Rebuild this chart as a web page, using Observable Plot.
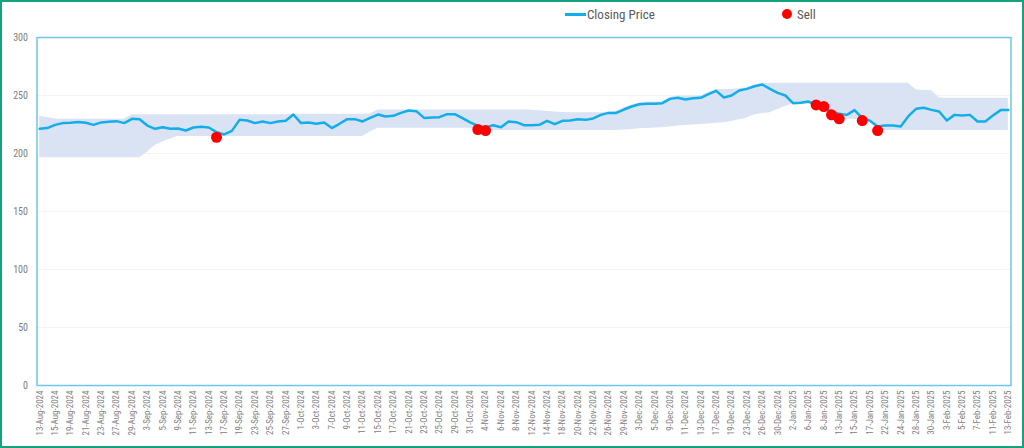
<!DOCTYPE html>
<html>
<head>
<meta charset="utf-8">
<script src="https://cdn.jsdelivr.net/npm/d3@7"></script>
<script src="https://cdn.jsdelivr.net/npm/@observablehq/plot@0.6"></script>
<style>
  html, body { margin: 0; padding: 0; background: #fff; }
  #wrap { position: relative; width: 1024px; height: 448px; overflow: hidden; background: #fff;
          font-family: "Liberation Sans Narrow", "Roboto Condensed", "DejaVu Sans Condensed", "Liberation Sans", sans-serif; }
  #chart { position: absolute; left: 0; top: 0; }
  #border { position: absolute; left: 0; top: 0; width: 1024px; height: 448px; box-sizing: border-box;
            border: 2px solid #17a17c; pointer-events: none; }
  .leg { position: absolute; top: 5px; height: 18px; display: flex; align-items: center; font-size: 13px; color: #595959; }
  .sw-line { width: 21px; height: 3px; background: #12aeea; margin-right: 1px; }
  .sw-dot { width: 10px; height: 10px; border-radius: 50%; background: #ff0000; margin-right: 5px; }
</style>
</head>
<body>
<div id="wrap">
  <div id="chart"></div>
  <div class="leg" style="left:565px"><div class="sw-line"></div><span>Closing Price</span></div>
  <div class="leg" style="left:782px"><div class="sw-dot"></div><span>Sell</span></div>
  <div id="border"></div>
</div>
<script>
const dates = [
  "13-Aug-2024","14-Aug-2024","15-Aug-2024","16-Aug-2024","19-Aug-2024","20-Aug-2024","21-Aug-2024","22-Aug-2024","23-Aug-2024","26-Aug-2024","27-Aug-2024","28-Aug-2024","29-Aug-2024","30-Aug-2024",
  "3-Sep-2024","4-Sep-2024","5-Sep-2024","6-Sep-2024","9-Sep-2024","10-Sep-2024","11-Sep-2024","12-Sep-2024","13-Sep-2024","16-Sep-2024","17-Sep-2024","18-Sep-2024","19-Sep-2024","20-Sep-2024","23-Sep-2024","24-Sep-2024","25-Sep-2024","26-Sep-2024","27-Sep-2024","30-Sep-2024",
  "1-Oct-2024","2-Oct-2024","3-Oct-2024","4-Oct-2024","7-Oct-2024","8-Oct-2024","9-Oct-2024","10-Oct-2024","11-Oct-2024","14-Oct-2024","15-Oct-2024","16-Oct-2024","17-Oct-2024","18-Oct-2024","21-Oct-2024","22-Oct-2024","23-Oct-2024","24-Oct-2024","25-Oct-2024","28-Oct-2024","29-Oct-2024","30-Oct-2024","31-Oct-2024",
  "1-Nov-2024","4-Nov-2024","5-Nov-2024","6-Nov-2024","7-Nov-2024","8-Nov-2024","11-Nov-2024","12-Nov-2024","13-Nov-2024","14-Nov-2024","15-Nov-2024","18-Nov-2024","19-Nov-2024","20-Nov-2024","21-Nov-2024","22-Nov-2024","25-Nov-2024","26-Nov-2024","27-Nov-2024","29-Nov-2024",
  "2-Dec-2024","3-Dec-2024","4-Dec-2024","5-Dec-2024","6-Dec-2024","9-Dec-2024","10-Dec-2024","11-Dec-2024","12-Dec-2024","13-Dec-2024","16-Dec-2024","17-Dec-2024","18-Dec-2024","19-Dec-2024","20-Dec-2024","23-Dec-2024","24-Dec-2024","26-Dec-2024","27-Dec-2024","30-Dec-2024","31-Dec-2024",
  "2-Jan-2025","3-Jan-2025","6-Jan-2025","7-Jan-2025","8-Jan-2025","10-Jan-2025","13-Jan-2025","14-Jan-2025","15-Jan-2025","16-Jan-2025","17-Jan-2025","21-Jan-2025","22-Jan-2025","23-Jan-2025","24-Jan-2025","27-Jan-2025","28-Jan-2025","29-Jan-2025","30-Jan-2025","31-Jan-2025",
  "3-Feb-2025","4-Feb-2025","5-Feb-2025","6-Feb-2025","7-Feb-2025","10-Feb-2025","11-Feb-2025","12-Feb-2025","13-Feb-2025"
];

const closingPrice = [
  221.3,221.9,224.7,226.2,226.5,227.1,226.5,224.7,226.8,227.3,227.9,226.2,229.9,229.6,
  224.1,221.3,222.7,221.3,221.6,219.8,222.4,223.0,222.4,218.4,216.4,219.5,229.0,228.4,226.2,227.6,226.2,227.6,228.2,233.6,
  226.2,226.8,225.6,226.8,221.9,225.6,229.6,229.6,227.6,230.7,233.6,231.9,232.5,235.0,237.1,236.5,230.7,231.0,231.3,233.9,233.9,230.5,226.8,
  223.9,222.4,224.4,222.7,227.6,227.0,224.4,224.4,224.7,228.2,225.3,228.2,228.4,229.6,229.0,230.2,233.3,235.0,235.0,237.9,
  240.5,242.5,242.8,242.8,243.4,247.1,248.0,246.6,247.7,248.0,251.1,254.0,248.3,250.0,254.3,255.7,258.0,259.5,255.7,252.3,250.0,
  243.4,243.7,244.8,241.9,239.0,236.2,234.2,233.3,237.4,230.5,228.2,223.3,224.1,224.1,223.3,232.2,238.5,239.4,237.6,236.2,
  228.4,233.3,232.8,233.3,227.6,227.6,232.8,237.4,237.4
];

const bandUpper = [
  231.9,231.0,229.8,229.5,229.5,229.5,229.5,229.5,229.5,229.5,229.5,229.5,233.5,233.5,
  233.5,233.5,233.5,233.5,233.5,233.5,233.5,233.5,233.5,233.5,233.5,233.5,233.5,233.5,233.5,233.5,233.5,233.5,233.5,233.8,
  233.8,233.8,233.8,233.8,233.8,233.8,233.8,233.8,233.8,234.0,237.6,237.6,237.6,237.6,237.6,237.6,237.6,237.6,237.6,237.6,237.6,237.6,237.6,
  237.6,237.6,237.6,237.6,237.6,237.6,237.6,237.2,236.8,236.2,235.7,235.3,235.1,235.1,235.1,235.1,235.1,235.8,236.5,239.5,
  241.5,243.5,244.5,244.5,244.5,248.5,249.5,249.5,249.5,249.5,252.5,255.2,255.2,255.2,255.8,257.0,259.0,260.5,260.5,260.5,260.5,
  260.5,260.5,260.5,260.5,260.5,260.5,260.5,260.5,260.5,260.5,260.5,260.5,260.5,260.5,260.5,260.5,255.0,254.3,254.0,248.0,
  247.7,247.7,247.7,247.7,247.7,247.7,247.7,247.7,247.7
];

const bandLower = [
  196.3,196.3,196.3,196.3,196.3,196.3,196.3,196.3,196.3,196.3,196.3,196.3,196.3,196.3,
  201.0,206.9,210.0,212.5,214.7,214.7,214.7,214.7,214.7,214.7,214.7,214.7,214.7,214.7,214.7,214.7,214.7,214.7,214.7,214.7,
  214.7,214.7,214.7,214.7,214.7,214.7,214.7,214.7,214.7,218.5,221.8,221.8,221.8,221.8,221.8,221.8,221.8,221.8,221.8,221.8,221.8,221.8,221.8,
  220.7,219.8,219.8,219.8,219.8,219.8,219.8,219.8,219.8,219.8,219.8,219.8,219.8,219.8,219.8,219.8,219.8,219.8,219.8,220.2,
  220.7,221.3,221.6,221.9,222.2,222.8,223.6,224.1,224.6,225.0,225.5,226.0,226.6,227.6,229.0,230.5,233.3,234.5,235.1,238.0,240.5,
  242.8,242.8,242.5,241.5,238.5,233.3,229.9,229.5,229.5,228.4,227.8,219.8,219.8,219.8,219.8,219.8,219.8,219.8,219.8,219.8,
  219.8,219.8,219.8,219.8,219.8,219.8,219.8,219.8,219.8
];

const sellDates = ["16-Sep-2024","1-Nov-2024","4-Nov-2024","7-Jan-2025","8-Jan-2025","10-Jan-2025","13-Jan-2025","16-Jan-2025","21-Jan-2025"];
const sellValues = [214.0, 220.7, 219.8, 241.9, 240.5, 233.3, 229.9, 228.4, 219.8];

const yTicks = [0, 50, 100, 150, 200, 250, 300];
const xTicks = dates.filter((d, i) => i % 2 === 0);

const table = dates.map((d, i) => ({date: d, close: closingPrice[i], upper: bandUpper[i], lower: bandLower[i]}));
const sells = sellDates.map((d, i) => ({date: d, value: sellValues[i]}));

const font = '"Liberation Sans Narrow", "Roboto Condensed", "DejaVu Sans Condensed", "Liberation Sans", sans-serif';

const chart = Plot.plot({
  width: 1024,
  height: 448,
  marginLeft: 36.5,
  marginRight: 13.5,
  marginTop: 37,
  marginBottom: 63,
  style: {fontFamily: font, background: "transparent", color: "#7f7f7f"},
  x: {type: "point", domain: dates, padding: 0.35},
  y: {domain: [0, 300]},
  marks: [
    Plot.gridY(yTicks.filter(t => t > 0 && t < 300), {stroke: "#f3f3f3", strokeOpacity: 1, strokeWidth: 1}),
    Plot.areaY(table, {x: "date", y1: "lower", y2: "upper", fill: "#dae3f3", curve: "linear"}),
    Plot.lineY(table, {x: "date", y: "close", stroke: "#12aeea", strokeWidth: 2.5, curve: "linear"}),
    Plot.dot(sells, {x: "date", y: "value", r: 5.5, fill: "#ff0000", stroke: "none"}),
    Plot.frame({stroke: "#6ec6ec", strokeWidth: 1.5}),
    Plot.axisY({ticks: yTicks, tickSize: 0, tickPadding: 9, fontSize: 10, fill: "#808080", label: null}),
    Plot.axisX({ticks: xTicks, tickSize: 0, tickPadding: 5, tickRotate: -90, fontSize: 9, fill: "#808080", label: null})
  ]
});
document.getElementById("chart").appendChild(chart);
</script>
</body>
</html>
